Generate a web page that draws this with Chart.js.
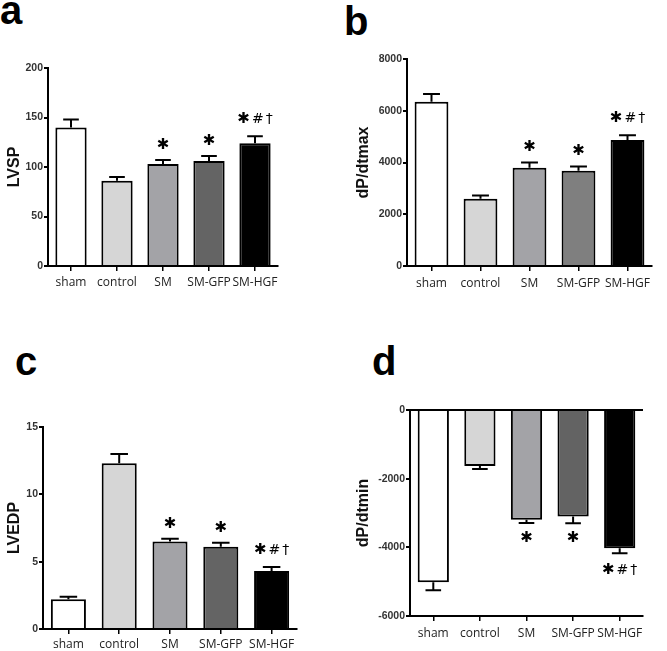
<!DOCTYPE html>
<html>
<head>
<meta charset="utf-8">
<script src="https://cdn.jsdelivr.net/npm/chart.js@4.4.1/dist/chart.umd.min.js"></script>
<style>
  body { margin: 0; background: #fff; }
  #wrap { position: relative; width: 667px; height: 651px; background: #fff; overflow: hidden; }
  canvas { position: absolute; }
  .lbl { position: absolute; font: bold 40px "Liberation Sans", Arial, sans-serif; line-height: 40px; color: #000; }
</style>
</head>
<body>
<div id="wrap">
  <div class="lbl" style="left:0px;top:-10px">a</div>
  <div class="lbl" style="left:344px;top:1px">b</div>
  <div class="lbl" style="left:15px;top:341px">c</div>
  <div class="lbl" style="left:372px;top:341px">d</div>
  <canvas id="chartA" width="333" height="320" style="left:0;top:0"></canvas>
  <canvas id="chartB" width="334" height="320" style="left:333px;top:0"></canvas>
  <canvas id="chartC" width="333" height="331" style="left:0;top:320px"></canvas>
  <canvas id="chartD" width="334" height="331" style="left:333px;top:320px"></canvas>
</div>
<script>
// groups
const categories = ['sham', 'control', 'SM', 'SM-GFP', 'SM-HGF'];

// a - LVSP
const lvsp = [140, 86, 103, 106, 124];
const lvspErr = [8, 4, 4, 5, 7];
// b - dP/dtmax
const dpdtMax = [6350, 2600, 3800, 3680, 4870];
const dpdtMaxErr = [300, 120, 200, 170, 180];
// c - LVEDP
const lvedp = [2.2, 12.3, 6.5, 6.1, 4.3];
const lvedpErr = [0.2, 0.7, 0.2, 0.3, 0.3];
// d - dP/dtmin
const dpdtMin = [-5020, -1630, -3200, -3100, -4030];
const dpdtMinErr = [230, 90, 90, 200, 140];

// significance marks (star, then # and dagger)
const marks = ['', '', '*', '*', '*#†'];

const tickFont = { family: "'Liberation Sans', Arial, sans-serif", size: 10.5, weight: 'bold' };
const catFont = { family: "'Open Sans', sans-serif", size: 12 };

const errorBars = {
    id: 'errorBars',
    afterDatasetsDraw(chart, args, opts) {
        const ctx = chart.ctx;
        const y = chart.scales.y;
        const meta = chart.getDatasetMeta(0);
        ctx.save();
        ctx.strokeStyle = '#000';
        ctx.fillStyle = '#000';
        ctx.lineWidth = 2;
        meta.data.forEach(function (bar, i) {
            const v = opts.values[i];
            const sign = v < 0 ? -1 : 1;
            const yv = y.getPixelForValue(v);
            const ye = y.getPixelForValue(v + sign * opts.errors[i]);
            const half = bar.width / 4;
            ctx.beginPath();
            ctx.moveTo(bar.x, yv);
            ctx.lineTo(bar.x, ye);
            ctx.moveTo(bar.x - half, ye);
            ctx.lineTo(bar.x + half, ye);
            ctx.stroke();

            const m = marks[i];
            if (!m) return;
            const star = '✱';
            const rest = m.slice(1).split('');
            const bigFont = "bold 15px 'DejaVu Sans', sans-serif";
            const smallFont = "14px 'DejaVu Sans', sans-serif";
            const gap = 2;
            ctx.font = bigFont;
            const w1 = ctx.measureText(star).width;
            ctx.font = smallFont;
            const ws = rest.map(function (c) { return ctx.measureText(c).width; });
            const total = w1 + ws.reduce(function (a, b) { return a + b + gap; }, 0);
            let x = bar.x - total / 2;
            const my = ye - sign * (rest.length ? opts.offHgf : opts.off);
            ctx.textBaseline = 'middle';
            ctx.textAlign = 'left';
            ctx.font = bigFont;
            ctx.fillText(star, x, my);
            x += w1;
            ctx.font = smallFont;
            rest.forEach(function (c, k) {
                x += gap;
                ctx.fillText(c, x, my);
                x += ws[k];
            });
        });
        ctx.restore();
    }
};

function makePanel(id, values, errors, colors, p) {
    new Chart(document.getElementById(id), {
        type: 'bar',
        data: {
            labels: categories,
            datasets: [{
                data: values,
                backgroundColor: colors,
                borderColor: '#000',
                borderWidth: 2,
                borderSkipped: 'start',
                barPercentage: p.barPct,
                categoryPercentage: 1
            }]
        },
        plugins: [errorBars],
        options: {
            responsive: false,
            animation: false,
            events: [],
            layout: { padding: { left: 0, right: p.padRight, top: p.padTop, bottom: p.padBottom } },
            plugins: {
                legend: { display: false },
                tooltip: { enabled: false },
                errorBars: { values: values, errors: errors, off: 15, offHgf: 17 }
            },
            scales: {
                x: {
                    afterFit: function (s) { s.height = p.xHeight; },
                    border: { color: '#000', width: 2 },
                    grid: { offset: false, drawOnChartArea: false, color: '#000', lineWidth: 1.5, tickLength: 5 },
                    ticks: { font: catFont, color: '#222', padding: p.labelPad, maxRotation: 0, autoSkip: false }
                },
                y: {
                    min: p.min,
                    max: p.max,
                    afterFit: function (s) { s.width = p.yWidth; },
                    border: { color: '#000', width: 2 },
                    grid: {
                        drawOnChartArea: p.zeroLine === true,
                        color: function (c) { return c.tick && c.tick.value === 0 ? '#000' : 'rgba(0,0,0,0)'; },
                        lineWidth: 2,
                        tickColor: '#000',
                        tickLength: 4
                    },
                    ticks: {
                        stepSize: p.step,
                        font: tickFont,
                        color: '#333',
                        padding: 1,
                        callback: function (v) { return String(v); }
                    },
                    title: {
                        display: true,
                        text: p.title,
                        font: { family: "'Liberation Sans', Arial, sans-serif", size: 16, weight: 'bold' },
                        color: '#111',
                        padding: { top: p.titlePad, bottom: 0 }
                    }
                }
            }
        }
    });
}

makePanel('chartA', lvsp, lvspErr, ['#ffffff', '#d6d6d6', '#a3a3a7', '#646464', '#000000'],
    { min: 0, max: 200, step: 50, title: 'LVSP', yWidth: 48, padRight: 55, padTop: 68, padBottom: 14, xHeight: 40, labelPad: 4, titlePad: 5, barPct: 0.68 });
makePanel('chartB', dpdtMax, dpdtMaxErr, ['#ffffff', '#d6d6d6', '#a3a3a7', '#7f7f7f', '#000000'],
    { min: 0, max: 8000, step: 2000, title: 'dP/dtmax', yWidth: 74, padRight: 15, padTop: 59, padBottom: 14, xHeight: 40, labelPad: 5, titlePad: 21, barPct: 0.69 });
makePanel('chartC', lvedp, lvedpErr, ['#ffffff', '#d6d6d6', '#a3a3a7', '#646464', '#000000'],
    { min: 0, max: 15, step: 5, title: 'LVEDP', yWidth: 43, padRight: 36, padTop: 107, padBottom: 0, xHeight: 22, labelPad: 3, titlePad: 5, barPct: 0.69 });
makePanel('chartD', dpdtMin, dpdtMinErr, ['#ffffff', '#d6d6d6', '#a3a3a7', '#636363', '#000000'],
    { min: -6000, max: 0, step: 2000, title: 'dP/dtmin', yWidth: 77, padRight: 24, padTop: 90, padBottom: 0, xHeight: 35, labelPad: 5, titlePad: 21, barPct: 0.67, zeroLine: true });
</script>
</body>
</html>
